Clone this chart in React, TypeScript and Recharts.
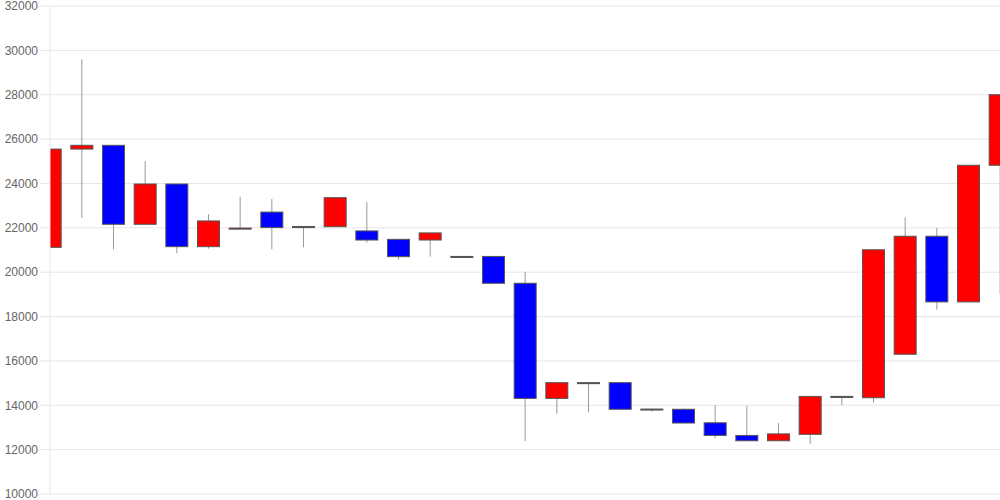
import { ComposedChart, Bar, XAxis, YAxis, CartesianGrid } from "recharts"

// daily candles, oldest first
const opens = [
  21120, 25550, 25720, 22160, 23975, 21150, 21940, 22710, 22010, 22050,
  21860, 21480, 21450, 20700, 20710, 19500, 14310, 15020, 15020, 13820,
  13820, 13210, 12640, 12400, 12690, 14400, 14340, 16300, 21620, 18660,
  24820,
]
const closes = [
  25550, 25720, 22160, 23975, 21150, 22310, 21990, 22010, 22060, 23360,
  21450, 20700, 21770, 20710, 19500, 14310, 15020, 15010, 13820, 13830,
  13200, 12640, 12400, 12710, 14400, 14380, 21010, 21620, 18660, 24820,
  28000,
]
const highs = [
  25550, 29600, 25720, 25010, 23975, 22610, 23400, 23300, 22060, 23360,
  23160, 21500, 21770, 20720, 20710, 20010, 15020, 15020, 15020, 13840,
  13850, 14010, 13970, 13200, 14400, 14400, 21010, 22470, 22000, 24820,
  28000,
]
const lows = [
  21120, 22450, 21030, 22160, 20850, 21060, 21940, 21030, 21120, 22050,
  21330, 20560, 20700, 20700, 19500, 12380, 13620, 13680, 13820, 13710,
  13200, 12510, 12400, 12400, 12260, 14000, 14120, 16300, 18310, 18660,
  19000,
]
const yTicks = [10000, 12000, 14000, 16000, 18000, 20000, 22000, 24000, 26000, 28000, 30000, 32000]

const data = opens.map((open, i) => ({
  i,
  open,
  close: closes[i],
  high: highs[i],
  low: lows[i],
}))

const Candle = (props: any) => {
  const { x, y, width, height, payload } = props
  const { open, close, high, low } = payload
  const ratio = high === low ? 0 : height / (high - low)
  const yOf = (v: number) => y + (high - v) * ratio
  const cx = x + width / 2
  const top = yOf(Math.max(open, close))
  const bottom = yOf(Math.min(open, close))
  const up = close >= open
  return (
    <g>
      <line x1={cx} x2={cx} y1={y} y2={y + height} stroke="#999" strokeWidth={1} />
      <rect
        x={x}
        y={top}
        width={width}
        height={Math.max(bottom - top, 1)}
        fill={up ? "#ff0000" : "#0000ff"}
        stroke="#555"
        strokeWidth={1}
      />
    </g>
  )
}

export default function App() {
  return (
    <div style={{ position: "absolute", left: 0, top: 0, fontFamily: "'Liberation Sans', Arial, sans-serif" }}>
      <ComposedChart width={1000} height={500} data={data} margin={{ top: 6, right: 0, bottom: 6, left: 0 }}>
        <CartesianGrid vertical={false} stroke="#e6e6e6" />
        <XAxis dataKey="i" type="number" domain={[0, 30]} allowDataOverflow hide />
        <YAxis
          domain={[10000, 32000]}
          ticks={yTicks}
          width={50}
          tickSize={10}
          tickMargin={2}
          stroke="#e6e6e6"
          tick={{ fill: "#666", fontSize: 12 }}
          interval={0}
        />
        <Bar
          dataKey={(d: any) => [d.low, d.high]}
          barSize={22}
          shape={Candle}
          isAnimationActive={false}
        />
      </ComposedChart>
    </div>
  )
}
